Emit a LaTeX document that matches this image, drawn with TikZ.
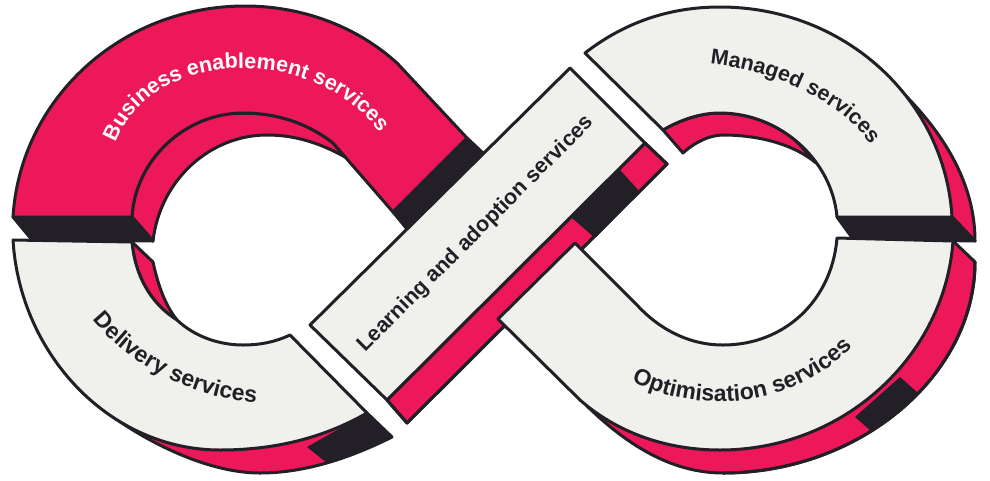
\documentclass[tikz,border=0pt]{standalone}
\usepackage{fontspec}
\setmainfont{Liberation Sans}
\usetikzlibrary{decorations.text}
\definecolor{loopred}{HTML}{EC185A}
\definecolor{loopdark}{HTML}{221F26}
\definecolor{looplight}{HTML}{F0F1ED}
\newcommand{\labelfont}{\fontsize{21.5}{26}\selectfont\bfseries}
\newcommand{\widefont}{\fontsize{23}{27}\selectfont\bfseries}

\begin{document}
\begin{tikzpicture}[
            x = 1pt, % one unit is one pixel of the picture
            y = -1pt,
            line width = 3pt,
            line join = round
        ]

        \tikzstyle{front}=[draw = loopdark, fill = looplight]
        \tikzstyle{frontred}=[draw = loopdark, fill = loopred]
        \tikzstyle{back}=[draw = loopdark, fill = loopred]
        \tikzstyle{block}=[draw = loopdark, fill = loopdark]
        \tikzstyle{patch}=[fill = loopdark]
        \tikzstyle{curved}=[decorate, decoration = {text along path, text align = center}]

        \useasboundingbox (0,0) rectangle (990,480);

        % business enablement
        \path[back] (132,217) -- (153,241) .. controls (160,180) and (210,135) .. (267,135)
            .. controls (295,135) and (320,143) .. (345,157) -- (333,143)
            .. controls (310,125) and (280,113) .. (243,113)
            .. controls (185,113) and (135,160) .. (132,217) -- cycle;
        \path[block] (13,217) -- (132,217) -- (153,241) -- (32,240) -- cycle;
        \path[block] (467,138) -- (393,212) -- (407,229) -- (483,153) -- cycle;
        \path[frontred] (13,217) .. controls (20,100) and (120,6) .. (245,6)
            .. controls (300,6) and (355,25) .. (397,63) -- (467,138) -- (393,212) -- (333,143)
            .. controls (310,125) and (280,113) .. (243,113)
            .. controls (185,113) and (135,160) .. (132,217) -- cycle;

        % delivery
        \path[back] (132,242) -- (153,262) .. controls (158,285) and (165,305) .. (177,320)
            .. controls (150,303) and (135,275) .. (132,242) -- cycle;
        \path[back] (78,388) .. controls (115,425) and (195,473) .. (260,473)
            .. controls (305,473) and (350,458) .. (392,437) -- (367,413) -- (220,440) -- cycle;
        \path[patch] (307,447) -- (367,413) -- (392,437)
            .. controls (371,447.5) and (349,456.5) .. (327,463) -- cycle;
        \path[front] (13,240) -- (132,242) .. controls (135,275) and (150,303) .. (177,320)
            .. controls (195,337) and (220,345) .. (243,345)
            .. controls (260,345) and (275,342) .. (290,335) -- (367,413)
            .. controls (320,440) and (270,450) .. (220,450)
            .. controls (110,450) and (20,355) .. (13,240) -- cycle;

        % managed
        \path[back] (663,130) -- (683,153) .. controls (695,142) and (710,135) .. (723,135)
            .. controls (760,135) and (795,145) .. (816,163) -- (799,144)
            .. controls (780,125) and (750,113) .. (720,113)
            .. controls (700,113) and (680,120) .. (663,130) -- cycle;
        \path[back] (975,241) .. controls (975,180) and (940,130) .. (903,93) -- (930,200) -- (952,217) -- cycle;
        \path[block] (837,217) -- (952,217) -- (975,241) -- (853,239) -- cycle;
        \path[front] (585,53) .. controls (625,22) and (670,7) .. (720,7)
            .. controls (845,7) and (945,100) .. (952,217) -- (837,217)
            .. controls (832,160) and (780,113) .. (720,113)
            .. controls (700,113) and (680,120) .. (663,130) -- cycle;

        % learning and adoption
        \path[back] (645,143) -- (667,164) -- (407,423) -- (387,400) -- cycle;
        \path[block] (618,170) -- (638,192) -- (595,236) -- (572,216) -- cycle;
        \path[draw = loopdark] (645,143) -- (667,164) -- (407,423) -- (387,400) -- cycle;
        \path[front] (570,68) -- (645,143) -- (387,400) -- (310,325) -- cycle;

        % optimisation
        \path[back] (953,241) -- (975,262) .. controls (975,375) and (860,473) .. (723,473)
            .. controls (670,473) and (625,443) .. (587,406) -- (700,420) -- cycle;
        \path[patch] (855,417) -- (900,377) -- (918,393)
            .. controls (904,408) and (888,421) .. (871,431) -- cycle;
        \path[draw = loopdark] (975,262) .. controls (975,375) and (860,473) .. (723,473);
        \path[front] (837,238) -- (953,241) .. controls (945,355) and (845,450) .. (720,450)
            .. controls (670,450) and (620,435) .. (580,400) -- (498,319) -- (575,243) -- (637,305)
            .. controls (660,330) and (690,345) .. (723,345)
            .. controls (785,345) and (832,300) .. (837,238) -- cycle;

        % labels
        \path[curved, decoration = {text = {|\labelfont\color{white}|Business enablement services}}]
            (114,146) .. controls (150,46) and (316,42) .. (382,136);
        \path[curved, decoration = {text = {|\labelfont\color{loopdark}|Managed services}}]
            (700,63) .. controls (775,68) and (845,103) .. (877,153);
        \path[curved, decoration = {text = {|\widefont\color{loopdark}|Delivery services}}]
            (90,316) .. controls (123,360) and (188,399) .. (261,403);
        \path[curved, decoration = {text = {|\widefont\color{loopdark}|Optimisation services}}]
            (625,378) .. controls (690,414) and (790,414) .. (858,342);
        \node[rotate = 45, text = loopdark, font = \labelfont] (learn) at (476,234)
            {Learning and adoption services};
    \end{tikzpicture}
\end{document}
